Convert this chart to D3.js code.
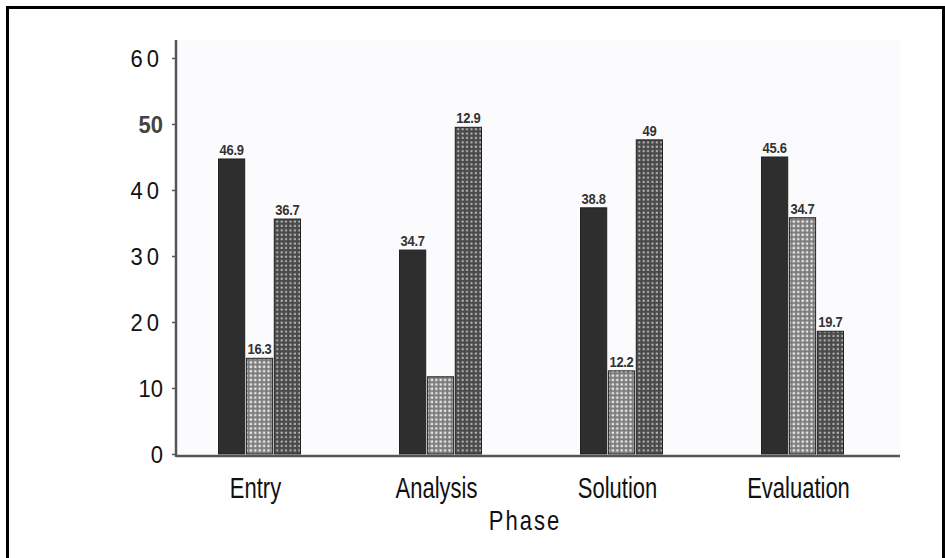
<!DOCTYPE html>
<html><head><meta charset="utf-8">
<script src="https://cdn.jsdelivr.net/npm/d3@7/dist/d3.min.js"></script>
<style>
html,body{margin:0;padding:0;background:#fff;}
svg{display:block;}
text{font-family:"Liberation Sans Narrow","Arial Narrow","Liberation Sans",sans-serif;}
</style></head>
<body>
<svg id="chart" width="945" height="558"></svg>
<script>
// ---- data ----
const categories = ["Entry", "Analysis", "Solution", "Evaluation"];
const seriesNames = ["A", "B", "C"];
const seriesA = [44.7, 30.9, 37.3, 45.0];
const seriesB = [14.5, 11.7, 12.6, 35.8];
const seriesC = [35.6, 49.5, 47.6, 18.6];
const labelsA = ["46.9", "34.7", "38.8", "45.6"];
const labelsB = ["16.3", "", "12.2", "34.7"];
const labelsC = ["36.7", "12.9", "49", "19.7"];
const yTicks = [0, 10, 20, 30, 40, 50, 60];
const xTitle = "Phase";

const svg = d3.select("#chart");
const W = 945, H = 558;

// patterns
const defs = svg.append("defs");
const pL = defs.append("pattern").attr("id","pLight").attr("patternUnits","userSpaceOnUse")
  .attr("width",4.4).attr("height",4.4);
pL.append("rect").attr("width",4.4).attr("height",4.4).attr("fill","#7a7a7a");
pL.append("rect").attr("x",0.4).attr("y",0.4).attr("width",2.4).attr("height",2.4).attr("fill","#e6e6e6");
const pM = defs.append("pattern").attr("id","pMed").attr("patternUnits","userSpaceOnUse")
  .attr("width",4.4).attr("height",4.4);
pM.append("rect").attr("width",4.4).attr("height",4.4).attr("fill","#4a4a4a");
pM.append("rect").attr("x",0.6).attr("y",0.6).attr("width",1.9).attr("height",1.9).attr("fill","#c4c4c4");

const fills = ["#2e2e2e", "url(#pLight)", "url(#pMed)"];

// frame (left, top, right)
svg.append("path").attr("d", `M7.5,${H} V7.5 H943.5 V${H}`)
  .attr("fill","none").attr("stroke","#000").attr("stroke-width",3);

// scales
const x0 = d3.scaleBand().domain(categories).range([169, 893])
  .paddingInner(0.547).paddingOuter(0.2735);
const x1 = d3.scaleBand().domain(seriesNames).range([0, x0.bandwidth()]).paddingInner(0.06);
const y = d3.scaleLinear().domain([0, 60]).range([454, 58]);

const values = [seriesA, seriesB, seriesC];
const labels = [labelsA, labelsB, labelsC];

// faint plot background (scan tone)
svg.append("rect").attr("x",178).attr("y",40).attr("width",722).attr("height",y(0)-40)
  .attr("fill","#fbfbfd");

// bars
const groups = svg.append("g").selectAll("g").data(categories).join("g")
  .attr("transform", d => `translate(${x0(d)},0)`);
groups.each(function(cat, ci){
  const g = d3.select(this);
  seriesNames.forEach((s, si) => {
    const v = values[si][ci];
    g.append("rect")
      .attr("x", x1(s)).attr("width", x1.bandwidth())
      .attr("y", y(v)).attr("height", y(0) - y(v))
      .attr("fill", fills[si]).attr("stroke", "#222").attr("stroke-width", 1);
    const lab = labels[si][ci];
    if (lab) {
      g.append("text")
        .attr("transform", `translate(${x1(s) + x1.bandwidth()/2},${y(v) - 4}) scale(1,1.15)`)
        .attr("text-anchor","middle").attr("font-size", 13).attr("font-weight","bold")
        .attr("fill","#333").attr("letter-spacing","-0.3")
        .text(lab);
    }
  });
});

// y axis
const yAxis = d3.axisLeft(y).tickValues(yTicks).tickSize(4).tickPadding(9).tickFormat(d3.format("d"));
const ya = svg.append("g").attr("transform","translate(176,0)").call(yAxis);
ya.select(".domain").remove();
ya.selectAll(".tick line").attr("stroke","#555").attr("stroke-width",1.5);
ya.selectAll(".tick text")
  .attr("font-size", 22).attr("dy", "0.36em")
  .attr("transform","scale(1,1.12)")
  .attr("y", 0)
  .attr("letter-spacing", d => (d===20||d===30||d===40||d===60) ? 4 : 0)
  .attr("font-weight", d => d===50 ? "bold" : "normal")
  .attr("fill", d => d===50 ? "#444" : "#111");
svg.append("line").attr("x1",176).attr("x2",176).attr("y1",40).attr("y2",y(0)+3)
  .attr("stroke","#555").attr("stroke-width",2.5);

// x axis line
svg.append("line").attr("x1",176).attr("x2",900).attr("y1",y(0)+2).attr("y2",y(0)+2)
  .attr("stroke","#555").attr("stroke-width",2.5);

// category labels
svg.append("g").selectAll("text").data(categories).join("text")
  .attr("transform", d => `translate(${x0(d) + x0.bandwidth()/2 - 4},498) scale(1,1.3)`)
  .attr("text-anchor","middle").attr("font-size", 22).attr("fill","#111")
  .text(d => d);

// axis title
svg.append("text").attr("transform","translate(525,530) scale(1,1.25)").attr("text-anchor","middle")
  .attr("font-size", 22).attr("letter-spacing", 2).attr("fill","#111").text(xTitle);
</script>
</body></html>
